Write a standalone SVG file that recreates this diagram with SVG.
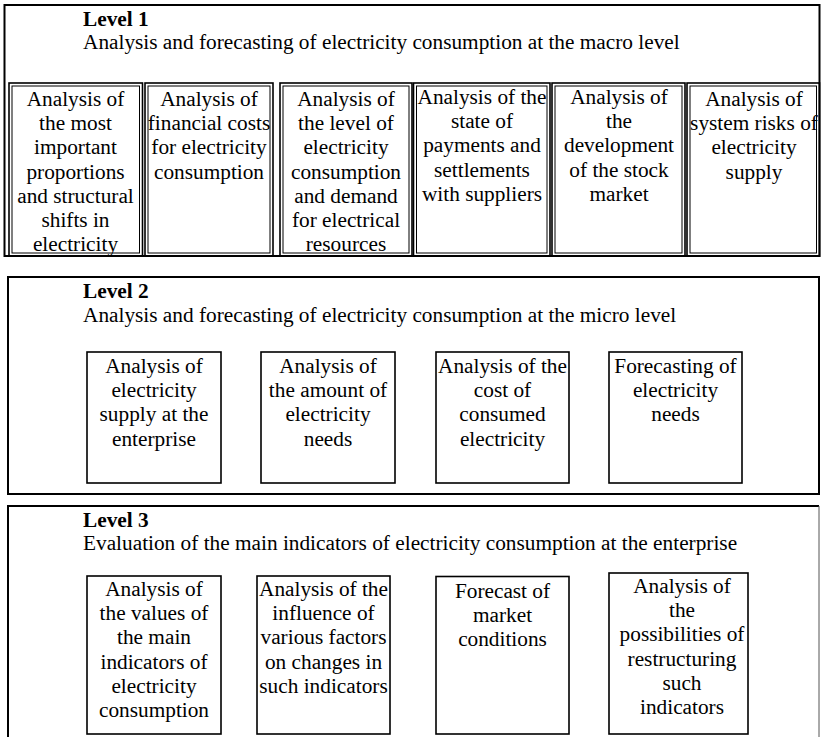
<svg xmlns="http://www.w3.org/2000/svg" width="821" height="737" viewBox="0 0 821 737">
  <style>
    text { font-family: "Liberation Serif", "Times New Roman", serif; font-size: 21.3px; fill: #000; }
    .title { font-weight: bold; }
    .c { text-anchor: middle; }
    .frame { fill: none; stroke: #000; stroke-width: 2; }
    .box { fill: none; stroke: #000; stroke-width: 1.6; }
    .inner { fill: none; stroke: #000; stroke-width: 1; }
  </style>
  <rect width="821" height="737" fill="#fff"/>

  <!-- Level 1: macro level -->
  <g id="level1">
    <rect class="frame" x="4.5" y="5" width="815" height="251"/>
    <text class="title" x="83" y="26">Level 1</text>
    <text x="83" y="49">Analysis and forecasting of electricity consumption at the macro level</text>
  </g>
  <g id="l1-proportions">
    <rect class="box" x="9" y="83" width="133.5" height="173"/>
    <rect class="inner" x="12" y="86" width="127.5" height="167"/>
    <text class="c" x="75.5" y="106">Analysis of<tspan x="75.5" dy="24.2">the most</tspan><tspan x="75.5" dy="24.2">important</tspan><tspan x="75.5" dy="24.2">proportions</tspan><tspan x="75.5" dy="24.2">and structural</tspan><tspan x="75.5" dy="24.2">shifts in</tspan><tspan x="75.5" dy="24.2">electricity</tspan></text>
  </g>
  <g id="l1-costs">
    <rect class="box" x="145" y="83" width="128" height="173"/>
    <rect class="inner" x="148" y="86" width="122" height="167"/>
    <text class="c" x="209" y="106">Analysis of<tspan x="209" dy="24.2">financial costs</tspan><tspan x="209" dy="24.2">for electricity</tspan><tspan x="209" dy="24.2">consumption</tspan></text>
  </g>
  <g id="l1-demand">
    <rect class="box" x="280" y="83" width="132" height="173"/>
    <rect class="inner" x="283" y="86" width="126" height="167"/>
    <text class="c" x="346" y="106">Analysis of<tspan x="346" dy="24.2">the level of</tspan><tspan x="346" dy="24.2">electricity</tspan><tspan x="346" dy="24.2">consumption</tspan><tspan x="346" dy="24.2">and demand</tspan><tspan x="346" dy="24.2">for electrical</tspan><tspan x="346" dy="24.2">resources</tspan></text>
  </g>
  <g id="l1-payments">
    <rect class="box" x="413.5" y="83" width="136.5" height="173"/>
    <rect class="inner" x="416.5" y="86" width="130.5" height="167"/>
    <text class="c" x="482" y="104">Analysis of the<tspan x="482" dy="24.2">state of</tspan><tspan x="482" dy="24.2">payments and</tspan><tspan x="482" dy="24.2">settlements</tspan><tspan x="482" dy="24.2">with suppliers</tspan></text>
  </g>
  <g id="l1-stock">
    <rect class="box" x="552" y="83" width="133" height="173"/>
    <rect class="inner" x="555" y="86" width="127" height="167"/>
    <text class="c" x="619" y="104">Analysis of<tspan x="619" dy="24.2">the</tspan><tspan x="619" dy="24.2">development</tspan><tspan x="619" dy="24.2">of the stock</tspan><tspan x="619" dy="24.2">market</tspan></text>
  </g>
  <g id="l1-risks">
    <rect class="box" x="687" y="83" width="132.5" height="173"/>
    <rect class="inner" x="690" y="86" width="126.5" height="167"/>
    <text class="c" x="754" y="106">Analysis of<tspan x="754" dy="24.2">system risks of</tspan><tspan x="754" dy="24.2">electricity</tspan><tspan x="754" dy="24.2">supply</tspan></text>
  </g>

  <!-- Level 2: micro level -->
  <g id="level2">
    <rect class="frame" x="8" y="277" width="811" height="217"/>
    <text class="title" x="83" y="298">Level 2</text>
    <text x="83" y="322">Analysis and forecasting of electricity consumption at the micro level</text>
  </g>
  <g id="l2-supply">
    <rect class="box" x="87" y="352" width="134" height="131"/>
    <text class="c" x="154" y="373">Analysis of<tspan x="154" dy="24.2">electricity</tspan><tspan x="154" dy="24.2">supply at the</tspan><tspan x="154" dy="24.2">enterprise</tspan></text>
  </g>
  <g id="l2-amount">
    <rect class="box" x="261" y="352" width="134" height="131"/>
    <text class="c" x="328" y="373">Analysis of<tspan x="328" dy="24.2">the amount of</tspan><tspan x="328" dy="24.2">electricity</tspan><tspan x="328" dy="24.2">needs</tspan></text>
  </g>
  <g id="l2-cost">
    <rect class="box" x="436" y="352" width="133" height="131"/>
    <text class="c" x="502.5" y="373">Analysis of the<tspan x="502.5" dy="24.2">cost of</tspan><tspan x="502.5" dy="24.2">consumed</tspan><tspan x="502.5" dy="24.2">electricity</tspan></text>
  </g>
  <g id="l2-forecast">
    <rect class="box" x="609" y="352" width="133" height="131"/>
    <text class="c" x="675.5" y="373">Forecasting of<tspan x="675.5" dy="24.2">electricity</tspan><tspan x="675.5" dy="24.2">needs</tspan></text>
  </g>

  <!-- Level 3: enterprise indicators -->
  <g id="level3">
    <path class="frame" d="M8 740 V506 H819"/>
    <path fill="none" stroke="#555" stroke-width="1" d="M819 506 V740"/>
    <text class="title" x="83" y="527">Level 3</text>
    <text x="83" y="550">Evaluation of the main indicators of electricity consumption at the enterprise</text>
  </g>
  <g id="l3-values">
    <rect class="box" x="87" y="576" width="134" height="158"/>
    <text class="c" x="154" y="596">Analysis of<tspan x="154" dy="24.2">the values of</tspan><tspan x="154" dy="24.2">the main</tspan><tspan x="154" dy="24.2">indicators of</tspan><tspan x="154" dy="24.2">electricity</tspan><tspan x="154" dy="24.2">consumption</tspan></text>
  </g>
  <g id="l3-factors">
    <rect class="box" x="257" y="576" width="133" height="158"/>
    <text class="c" x="323.5" y="596">Analysis of the<tspan x="323.5" dy="24.2">influence of</tspan><tspan x="323.5" dy="24.2">various factors</tspan><tspan x="323.5" dy="24.2">on changes in</tspan><tspan x="323.5" dy="24.2">such indicators</tspan></text>
  </g>
  <g id="l3-market">
    <rect class="box" x="436" y="576.5" width="133" height="157.5"/>
    <text class="c" x="502.5" y="598">Forecast of<tspan x="502.5" dy="24.2">market</tspan><tspan x="502.5" dy="24.2">conditions</tspan></text>
  </g>
  <g id="l3-restructuring">
    <rect class="box" x="609" y="573" width="139" height="161"/>
    <text class="c" x="682" y="593">Analysis of<tspan x="682" dy="24.2">the</tspan><tspan x="682" dy="24.2">possibilities of</tspan><tspan x="682" dy="24.2">restructuring</tspan><tspan x="682" dy="24.2">such</tspan><tspan x="682" dy="24.2">indicators</tspan></text>
  </g>
</svg>
